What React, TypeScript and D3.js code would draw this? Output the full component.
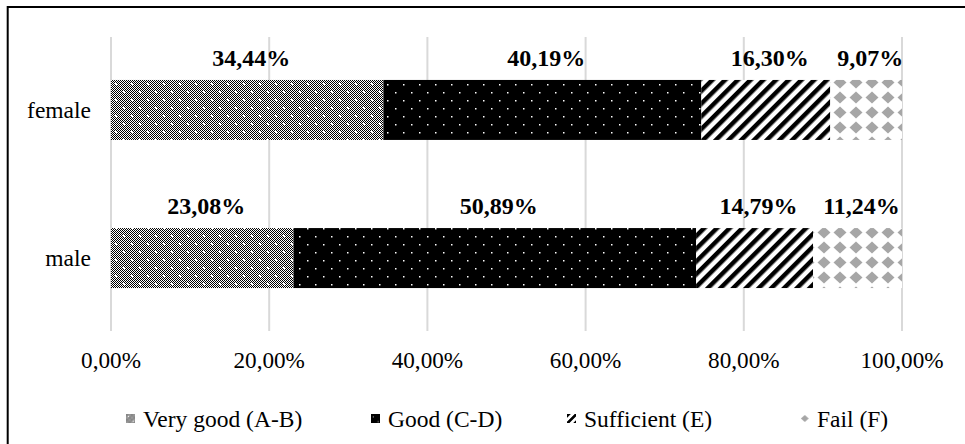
import { useEffect, useRef } from 'react';
import * as d3 from 'd3';

const categories = ['female', 'male'];
const seriesNames = ['Very good (A-B)', 'Good (C-D)', 'Sufficient (E)', 'Fail (F)'];
const femaleValues = [0.3444, 0.4019, 0.163, 0.0907];
const maleValues = [0.2308, 0.5089, 0.1479, 0.1124];
const xTicks = [0, 0.2, 0.4, 0.6, 0.8, 1];

const patternIds = ['pVeryGood', 'pGood', 'pSufficient', 'pFail'];
const legendX = [126, 371, 567, 800];
const serif = '"Liberation Serif", "Times New Roman", serif';

type Defs = d3.Selection<SVGDefsElement, unknown, null, undefined>;

// builds the four fill patterns; scale < 1 gives the small legend versions
function addPatterns(defs: Defs, suffix: string, transform: string) {
  const p1 = defs
    .append('pattern')
    .attr('id', patternIds[0] + suffix)
    .attr('patternUnits', 'userSpaceOnUse')
    .attr('width', 16)
    .attr('height', 16)
    .attr('patternTransform', transform);
  p1.append('rect').attr('width', 16).attr('height', 16).attr('fill', '#fff');
  for (let i = 0; i < 16; i++) {
    for (let j = 0; j < 16; j++) {
      if ((i + j) % 2 === 0) p1.append('rect').attr('x', i).attr('y', j).attr('width', 1).attr('height', 1).attr('fill', '#000');
    }
  }
  [
    [4, 4],
    [12, 12],
  ].forEach(([cx, cy]) => {
    p1.append('rect').attr('x', cx - 1).attr('y', cy - 1).attr('width', 2).attr('height', 2).attr('fill', '#fff');
  });

  const p2 = defs
    .append('pattern')
    .attr('id', patternIds[1] + suffix)
    .attr('patternUnits', 'userSpaceOnUse')
    .attr('width', 16)
    .attr('height', 16)
    .attr('patternTransform', transform);
  p2.append('rect').attr('width', 16).attr('height', 16).attr('fill', '#000');
  [
    [3, 4],
    [11, 12],
  ].forEach(([cx, cy]) => {
    p2.append('rect').attr('x', cx).attr('y', cy).attr('width', 1.5).attr('height', 1.5).attr('fill', '#fff');
  });

  const p3 = defs
    .append('pattern')
    .attr('id', patternIds[2] + suffix)
    .attr('patternUnits', 'userSpaceOnUse')
    .attr('width', 9)
    .attr('height', 9)
    .attr('patternTransform', `${transform} rotate(45)`);
  p3.append('rect').attr('width', 9).attr('height', 9).attr('fill', '#fff');
  p3.append('rect').attr('width', 4.5).attr('height', 9).attr('fill', '#000');

  const p4 = defs
    .append('pattern')
    .attr('id', patternIds[3] + suffix)
    .attr('patternUnits', 'userSpaceOnUse')
    .attr('width', 16)
    .attr('height', 15)
    .attr('patternTransform', transform);
  p4.append('rect').attr('width', 16).attr('height', 15).attr('fill', '#fff');
  p4.append('path').attr('d', 'M8,1.5 L14.5,7.5 L8,13.5 L1.5,7.5 Z').attr('fill', '#a6a6a6');
}

function App() {
  const svgRef = useRef<SVGSVGElement | null>(null);
  const width = 965;
  const height = 444;
  const plot = { left: 111, right: 902, top: 37, bottom: 331 };

  useEffect(() => {
    const svg = d3.select(svgRef.current);
    svg.selectAll('*').remove();

    const locale = d3.formatLocale({ decimal: ',', thousands: '.', grouping: [3], currency: ['', '€'] });
    const pct = locale.format('.2%');

    const rows = categories.map((c, i) => {
      const vals = i === 0 ? femaleValues : maleValues;
      const row: Record<string, number | string> = { category: c };
      seriesNames.forEach((s, j) => (row[s] = vals[j]));
      return row;
    });
    const stacked = d3.stack<Record<string, number | string>>().keys(seriesNames)(rows as any);

    const x = d3.scaleLinear().domain([0, 1]).range([plot.left, plot.right]);
    const y = d3
      .scaleBand()
      .domain(categories)
      .range([plot.top, plot.bottom])
      .paddingInner(0.595)
      .paddingOuter(0.29);

    const defs = svg.append('defs');
    addPatterns(defs, '', 'translate(0,0)');
    addPatterns(defs, 'Leg', 'translate(0,414) scale(0.6)');

    // outer border
    svg
      .append('rect')
      .attr('x', 7.7)
      .attr('y', 7)
      .attr('width', 1000)
      .attr('height', 1000)
      .attr('fill', 'none')
      .attr('stroke', '#000')
      .attr('stroke-width', 2);

    // gridlines
    svg
      .append('g')
      .selectAll('line')
      .data(xTicks)
      .join('line')
      .attr('x1', (d) => x(d))
      .attr('x2', (d) => x(d))
      .attr('y1', plot.top)
      .attr('y2', plot.bottom)
      .attr('stroke', '#d9d9d9')
      .attr('stroke-width', 2);

    // bars
    svg
      .append('g')
      .selectAll('g')
      .data(stacked)
      .join('g')
      .attr('fill', (_, i) => `url(#${patternIds[i]})`)
      .selectAll('rect')
      .data((d) => d)
      .join('rect')
      .attr('x', (d) => x(d[0]))
      .attr('y', (d) => y(d.data.category as string)!)
      .attr('width', (d) => x(d[1]) - x(d[0]))
      .attr('height', y.bandwidth());

    // value labels
    svg
      .append('g')
      .selectAll('g')
      .data(stacked)
      .join('g')
      .selectAll('text')
      .data((d) => d)
      .join('text')
      .attr('x', (d) => x((d[0] + d[1]) / 2) + 4)
      .attr('y', (d) => y(d.data.category as string)! - 14)
      .attr('text-anchor', 'middle')
      .attr('font-family', serif)
      .attr('font-size', 24)
      .attr('font-weight', 'bold')
      .attr('fill', '#000')
      .text((d) => pct(d[1] - d[0]));

    // category labels
    svg
      .append('g')
      .selectAll('text')
      .data(categories)
      .join('text')
      .attr('x', 91)
      .attr('y', (d) => y(d)! + y.bandwidth() / 2 + 8)
      .attr('text-anchor', 'end')
      .attr('font-family', serif)
      .attr('font-size', 23.5)
      .attr('fill', '#000')
      .text((d) => d);

    // x axis labels
    svg
      .append('g')
      .selectAll('text')
      .data(xTicks)
      .join('text')
      .attr('x', (d) => x(d))
      .attr('y', 368)
      .attr('text-anchor', 'middle')
      .attr('font-family', serif)
      .attr('font-size', 23.2)
      .attr('fill', '#000')
      .text((d) => pct(d));

    // legend
    const legend = svg
      .append('g')
      .selectAll('g')
      .data(seriesNames)
      .join('g')
      .attr('transform', (_, i) => `translate(${legendX[i]},0)`);
    legend
      .append('rect')
      .attr('x', 0)
      .attr('y', 414)
      .attr('width', 9)
      .attr('height', 9)
      .attr('fill', (_, i) => `url(#${patternIds[i]}Leg)`);
    legend
      .append('text')
      .attr('x', 17)
      .attr('y', 427)
      .attr('font-family', serif)
      .attr('font-size', 23.5)
      .attr('fill', '#000')
      .text((d) => d);
  }, []);

  return (
    <svg
      ref={svgRef}
      width={width}
      height={height}
      style={{ position: 'absolute', left: 0, top: 0, background: '#fff' }}
    />
  );
}

export default App;
